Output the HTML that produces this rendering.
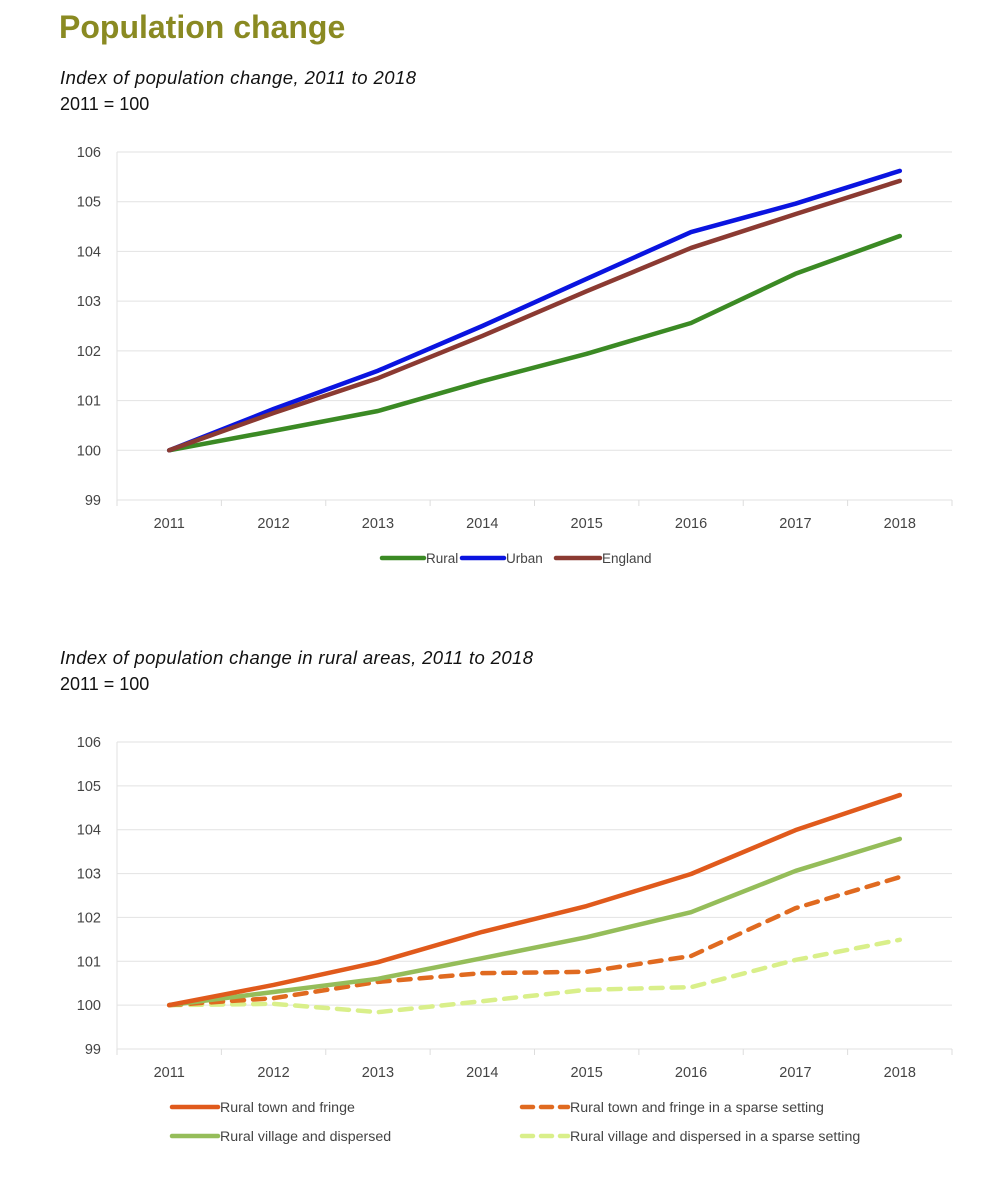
<!DOCTYPE html>
<html><head><meta charset="utf-8"><style>
body{margin:0;background:#fff;width:996px;height:1200px;overflow:hidden;font-family:"Liberation Sans",sans-serif;}
svg{position:absolute;left:0;top:0}
</style></head><body>
<svg id="s" width="996" height="1200">
<text x="59" y="38" font-size="32" font-weight="bold" fill="#8a8a22">Population change</text>
<text x="60" y="84" font-size="18.5" font-style="italic" fill="#111" textLength="356">Index of population change, 2011 to 2018</text>
<text x="60" y="110" font-size="18" fill="#111">2011  = 100</text>
<text x="60" y="664" font-size="18.5" font-style="italic" fill="#111" textLength="473">Index of population change in rural areas, 2011 to 2018</text>
<text x="60" y="690" font-size="18" fill="#111">2011  = 100</text>
</svg>
<script>
const years=['2011','2012','2013','2014','2015','2016','2017','2018'];
const yTicks=[99,100,101,102,103,104,105,106];
const rural=[100,100.39,100.79,101.39,101.94,102.56,103.55,104.31];
const urban=[100,100.83,101.6,102.5,103.45,104.39,104.96,105.62];
const england=[100,100.75,101.45,102.3,103.2,104.07,104.75,105.42];
const town=[100,100.46,100.98,101.67,102.26,102.99,103.99,104.79];
const village=[100,100.30,100.6,101.07,101.55,102.12,103.06,103.79];
const townSparse=[100,100.16,100.53,100.73,100.76,101.12,102.21,102.92];
const villageSparse=[100,100.03,99.84,100.09,100.35,100.41,101.03,101.49];
const NS='http://www.w3.org/2000/svg';
const svg=document.getElementById('s');
function mk(t,a,p){const e=document.createElementNS(NS,t);for(const k in a)e.setAttribute(k,a[k]);(p||svg).appendChild(e);return e;}
function chart(id,top,bottom,series){
  const g=mk('g',{});
  
  
  const L=117,R=952,step=(R-L)/years.length;
  const x=i=>L+step*(i+0.5);
  const y=v=>bottom-(v-99)/7*(bottom-top);
  yTicks.forEach(t=>{
    const ln=mk('line',{x1:L,x2:R,y1:y(t),y2:y(t),stroke:'#e2e2e2','stroke-width':1},g);
    
    
    const tx=mk('text',{x:101,y:y(t)+5,'font-size':14.5,fill:'#444','text-anchor':'end'},g);
    tx.textContent=t;
    
    
  });
  mk('line',{x1:L,x2:L,y1:top,y2:bottom,stroke:'#e2e2e2'},g);
  for(let i=0;i<=years.length;i++) mk('line',{x1:L+step*i,x2:L+step*i,y1:bottom,y2:bottom+6,stroke:'#ddd'},g);
  years.forEach((yr,i)=>{
    const tx=mk('text',{x:x(i),y:bottom+28,'font-size':14.5,fill:'#444','text-anchor':'middle'},g);
    tx.textContent=yr;
    
    
  });
  series.forEach(s=>{
    const p=mk('polyline',{points:s.d.map((v,i)=>x(i)+','+y(v)).join(' '),fill:'none',stroke:s.c,'stroke-width':4.5,'stroke-linejoin':'round','stroke-linecap':'round'},g);
    if(s.dash)p.setAttribute('stroke-dasharray','12 9');
    
    
  });
}
function legend(items,fs){
  items.forEach(it=>{
    const l=mk('line',{x1:it.x,x2:it.x+it.w,y1:it.y,y2:it.y,stroke:it.c,'stroke-width':4.5,'stroke-linecap':'round'});
    if(it.dash)l.setAttribute('stroke-dasharray','11 8');
    
    
    const t=mk('text',{x:it.x+it.w+2,y:it.y+5,'font-size':fs,fill:'#444'});
    t.textContent=it.t;
    
    
  });
}
chart('chart-rural-urban',152,500,[
  {d:rural,c:'#3b8a24',n:'line-rural'},
  {d:urban,c:'#0a14e0',n:'line-urban'},
  {d:england,c:'#8b3a32',n:'line-england'}]);
legend([{x:382,y:558,w:42,c:'#3b8a24',t:'Rural'},{x:462,y:558,w:42,c:'#0a14e0',t:'Urban'},{x:556,y:558,w:44,c:'#8b3a32',t:'England'}],13.5);
chart('chart-rural-areas',742,1049,[
  {d:villageSparse,c:'#d9ef8a',n:'line-village-sparse',dash:1},
  {d:townSparse,c:'#e06a20',n:'line-town-sparse',dash:1},
  {d:village,c:'#95bd5a',n:'line-village'},
  {d:town,c:'#e05a1c',n:'line-town'}]);
legend([{x:172,y:1107,w:46,c:'#e05a1c',t:'Rural town and fringe'},{x:522,y:1107,w:46,c:'#e06a20',t:'Rural town and fringe in a sparse setting',dash:1},
{x:172,y:1136,w:46,c:'#95bd5a',t:'Rural village and dispersed'},{x:522,y:1136,w:46,c:'#d9ef8a',t:'Rural village and dispersed in a sparse setting',dash:1}],14.2);
</script>
</body></html>
